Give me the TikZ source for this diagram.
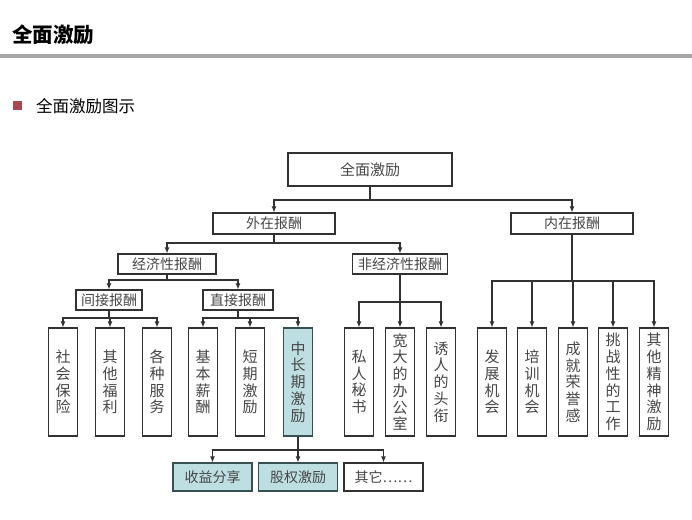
\documentclass[tikz,border=0pt]{standalone}
\usepackage{fontspec}
\setmainfont{Noto Sans CJK SC}
\usetikzlibrary{arrows.meta}
\definecolor{rulegray}{RGB}{166,166,166}
\definecolor{bulletred}{RGB}{172,72,82}
\definecolor{boxline}{RGB}{50,50,50}
\definecolor{txt}{RGB}{70,70,70}
\definecolor{tealfill}{RGB}{190,223,226}
\definecolor{tealline}{RGB}{55,80,83}
\tikzset{
  box/.style={draw=boxline, line width=1.1pt, fill=white, inner sep=0pt, text=txt, align=center},
  lbl/.style={box, font=\fontsize{14}{16}\selectfont},
  leaf/.style={box, minimum width=29pt, minimum height=108pt, font=\fontsize{15}{16.7}\selectfont},
  sub/.style={box, minimum width=79pt, minimum height=28pt, font=\fontsize{14}{16}\selectfont},
  hl/.style={fill=tealfill, draw=tealline},
  conn/.style={draw=boxline, line width=1.1pt},
  arr/.style={conn, -{Latex[length=6pt,width=5pt]}}
}
\begin{document}
\begin{tikzpicture}[x=1pt,y=-1pt]
\useasboundingbox (0,0) rectangle (692,519);
% header
\node[anchor=west, inner sep=0pt, font=\fontsize{20.5}{22}\selectfont\bfseries] (title) at (12,35) {全面激励};
\fill[rulegray] (0,54) rectangle (692,57.5);
\fill[bulletred] (13,101) rectangle (22,110);
\node[anchor=west, inner sep=0pt, font=\fontsize{16.5}{18}\selectfont] (subtitle) at (36,106) {全面激励图示};
% level boxes
\node[lbl, minimum width=164pt, minimum height=33pt, font=\fontsize{15}{17}\selectfont] (top) at (370,169.5) {全面激励};
\node[lbl, minimum width=122pt, minimum height=21pt] (wai) at (274,223.5) {外在报酬};
\node[lbl, minimum width=122pt, minimum height=21pt] (nei) at (572,223.5) {内在报酬};
\node[lbl, minimum width=98pt, minimum height=20pt] (jj) at (167,264) {经济性报酬};
\node[lbl, minimum width=95pt, minimum height=20pt] (fjj) at (400,264) {非经济性报酬};
\node[lbl, minimum width=66pt, minimum height=20pt] (jian) at (109,300) {间接报酬};
\node[lbl, minimum width=70pt, minimum height=20pt] (zhi) at (238,300) {直接报酬};
% leaves
\node[leaf] (l1) at (63,382) {社\\会\\保\\险};
\node[leaf] (l2) at (110,382) {其\\他\\福\\利};
\node[leaf] (l3) at (157,382) {各\\种\\服\\务};
\node[leaf] (l4) at (203,382) {基\\本\\薪\\酬};
\node[leaf] (l5) at (250,382) {短\\期\\激\\励};
\node[leaf, hl] (l6) at (298,382) {中\\长\\期\\激\\励};
\node[leaf] (l7) at (359,382) {私\\人\\秘\\书};
\node[leaf] (l8) at (400,382) {宽\\大\\的\\办\\公\\室};
\node[leaf] (l9) at (441,382) {诱\\人\\的\\头\\衔};
\node[leaf] (l10) at (492,382) {发\\展\\机\\会};
\node[leaf] (l11) at (532,382) {培\\训\\机\\会};
\node[leaf] (l12) at (573,382) {成\\就\\荣\\誉\\感};
\node[leaf] (l13) at (613,382) {挑\\战\\性\\的\\工\\作};
\node[leaf] (l14) at (654,382) {其\\他\\精\\神\\激\\励};
% sub items
\node[sub, hl] (s1) at (212.5,477) {收益分享};
\node[sub, hl] (s2) at (298,477) {股权激励};
\node[sub] (s3) at (383.5,477) {其它……};
% junction coordinates
\coordinate (j0) at (370,200);
\coordinate (j1) at (274,243);
\coordinate (j2) at (167,280);
\coordinate (j3) at (109,318);
\coordinate (j4) at (238,318);
\coordinate (j5) at (400,302);
\coordinate (j6) at (572,281);
\coordinate (j7) at (298,450);
% connectors
\draw[conn] (top.south) -- (j0);
\draw[arr] (j0) -| (wai.north);
\draw[arr] (j0) -| (nei.north);
\draw[conn] (wai.south) -- (j1);
\draw[arr] (j1) -| (jj.north);
\draw[arr] (j1) -| (fjj.north);
\draw[conn] (jj.south) -- (j2);
\draw[arr] (j2) -| (jian.north);
\draw[arr] (j2) -| (zhi.north);
\draw[conn] (jian.south) -- (j3);
\foreach \n in {l1,l2,l3} \draw[arr] (j3) -| (\n.north);
\draw[conn] (zhi.south) -- (j4);
\foreach \n in {l4,l5,l6} \draw[arr] (j4) -| (\n.north);
\draw[conn] (fjj.south) -- (j5);
\foreach \n in {l7,l8,l9} \draw[arr] (j5) -| (\n.north);
\draw[conn] (nei.south) -- (j6);
\foreach \n in {l10,l11,l12,l13,l14} \draw[arr] (j6) -| (\n.north);
\draw[conn] (l6.south) -- (j7);
\foreach \n in {s1,s2,s3} \draw[arr] (j7) -| (\n.north);
\end{tikzpicture}
\end{document}
